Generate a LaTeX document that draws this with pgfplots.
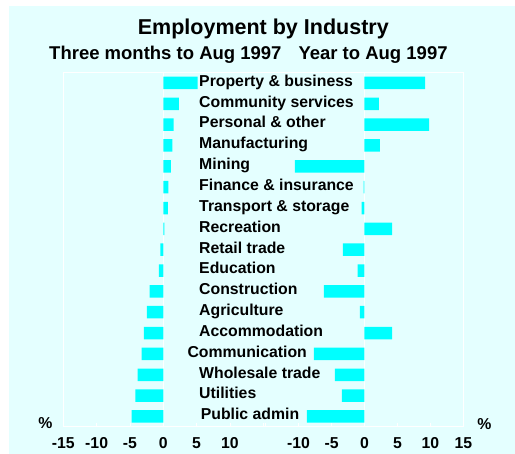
\documentclass[border=0pt]{standalone}
\usepackage{fontspec}
\setmainfont{Liberation Sans}
\usepackage{pgfplots}
\usepackage{pgfplotstable}
\pgfplotsset{compat=1.18}
\definecolor{bgc}{HTML}{E4FFFF}
\definecolor{barc}{HTML}{00FFFF}
\pgfplotstableread{
idx three year
0 5.15 9.2
1 2.35 2.2
2 1.55 9.8
3 1.35 2.35
4 1.15 -10.55
5 0.75 -0.15
6 0.7 -0.45
7 0.15 4.2
8 -0.45 -3.3
9 -0.65 -1.05
10 -2.05 -6.15
11 -2.45 -0.7
12 -2.9 4.2
13 -3.25 -7.7
14 -3.85 -4.5
15 -4.2 -3.45
16 -4.75 -8.75
}\data
\newcommand\labfont{\fontsize{15.8bp}{18bp}\selectfont\bfseries}
\tikzset{lab/.style={anchor=base west, inner sep=0pt, yshift=-3.3bp, font=\labfont}}
\begin{document}
\begin{tikzpicture}[x=1bp,y=1bp]
\useasboundingbox (0,0) rectangle (515,454);
\fill[white] (0,0) rectangle (515,454);
\fill[bgc] (9,0) rectangle (515,448);
\pgfplotsset{
 panel/.style={
  at={(#1,27.3bp)}, anchor=south west, scale only axis, width=200bp, height=354.4bp,
  xbar, bar width=12.5bp,
  y dir=reverse, ymin=-0.51, ymax=16.49, ytick=\empty,
  axis line style={draw=none},
  tick align=inside, xtick pos=left, major tick length=4bp,
  every tick/.style={white, line width=0.9bp},
  xtick={-15,-10,...,15},
  xticklabel style={font=\labfont, anchor=base, yshift=-21.6bp, inner sep=0pt},
  extra x ticks={0}, extra x tick labels={},
  extra x tick style={grid=major, major grid style={white, line width=0.9bp}, major tick length=0pt},
  clip=false,
 },
}
\begin{axis}[panel=63.3bp, xmin=-15, xmax=15, xticklabels={-15,-10,-5,0,5,10,{}}]
\addplot[fill=barc, draw=none, bar shift=0pt] table[x=three, y=idx] {\data};
\node[lab] at (axis cs:5.36,0) {Property \& business};
\node[lab] at (axis cs:5.36,1) {Community services};
\node[lab] at (axis cs:5.36,2) {Personal \& other};
\node[lab] at (axis cs:5.36,3) {Manufacturing};
\node[lab] at (axis cs:5.36,4) {Mining};
\node[lab] at (axis cs:5.36,5) {Finance \& insurance};
\node[lab] at (axis cs:5.36,6) {Transport \& storage};
\node[lab] at (axis cs:5.36,7) {Recreation};
\node[lab] at (axis cs:5.36,8) {Retail trade};
\node[lab] at (axis cs:5.36,9) {Education};
\node[lab] at (axis cs:5.36,10) {Construction};
\node[lab] at (axis cs:5.36,11) {Agriculture};
\node[lab] at (axis cs:5.36,12) {Accommodation};
\node[lab] at (axis cs:3.6,13) {Communication};
\node[lab] at (axis cs:5.36,14) {Wholesale trade};
\node[lab] at (axis cs:5.36,15) {Utilities};
\node[lab] at (axis cs:5.6,16) {Public admin};
\end{axis}
\begin{axis}[panel=263.3bp, xmin=-15.36, xmax=15, xticklabels={{},-10,-5,0,5,10,15}]
\addplot[fill=barc, draw=none, bar shift=0pt] table[x=year, y=idx] {\data};
\end{axis}
\draw[white, line width=0.9] (63.3,27.3) rectangle (463.3,381.7);
\node[anchor=base, inner sep=0pt, font=\fontsize{21.5bp}{24bp}\selectfont\bfseries] at (263.3,419) {Employment by Industry};
\node[anchor=base west, inner sep=0pt, font=\fontsize{18.5bp}{21bp}\selectfont\bfseries] at (49,394) {Three months to Aug 1997};
\node[anchor=base west, inner sep=0pt, font=\fontsize{18.5bp}{21bp}\selectfont\bfseries] at (298.3,394) {Year to Aug 1997};
\node[anchor=base, inner sep=0pt, font=\labfont] at (45.5,25) {\%};
\node[anchor=base, inner sep=0pt, font=\labfont] at (484.3,24) {\%};
\end{tikzpicture}
\end{document}
